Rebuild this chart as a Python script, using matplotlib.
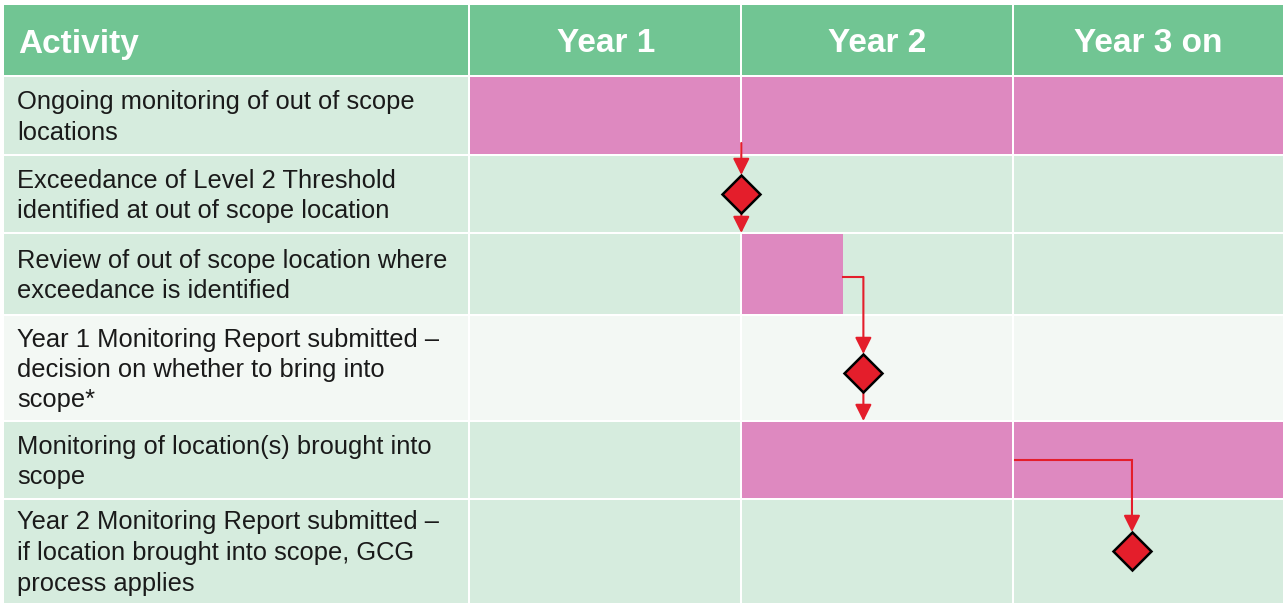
import matplotlib
matplotlib.use('Agg')
import matplotlib.pyplot as plt
from matplotlib.patches import Rectangle, FancyArrowPatch

plt.rcParams['font.family'] = ['Liberation Sans', 'DejaVu Sans']

# ---- data ----
columns = ['Year 1', 'Year 2', 'Year 3 on']
activities = [
    'Ongoing monitoring of out of scope\nlocations',
    'Exceedance of Level 2 Threshold\nidentified at out of scope location',
    'Review of out of scope location where\nexceedance is identified',
    'Year 1 Monitoring Report submitted \u2013\ndecision on whether to bring into\nscope*',
    'Monitoring of location(s) brought into\nscope',
    'Year 2 Monitoring Report submitted \u2013\nif location brought into scope, GCG\nprocess applies',
]
# bars: (row, start year, end year)
bar_rows = [0, 2, 4]
bar_start = [0.0, 1.0, 1.0]
bar_end = [3.0, 1.375, 3.0]
# milestones: (row, time)
ms_rows = [1, 3, 5]
ms_time = [1.0, 1.45, 2.44]

# ---- colours ----
header_c = '#71C593'
row_c = '#D6ECDE'
row_light = '#F3F8F4'
pink = '#DE89C0'
red = '#E41E2B'
text_c = '#1A1A1A'

# layout in pixels (y), years (x)
W, H = 1283, 603
x0, yw = 470, 271.3          # pixel of year 0, pixels per year
left_px = 4
edges = [5, 76, 155, 233, 315, 421, 499, 603]   # header + 6 rows
row_bg = [row_c, row_c, row_c, row_light, row_c, row_c]

fig = plt.figure(figsize=(W / 100, H / 100), dpi=100)
ax = fig.add_axes([0, 0, 1, 1])
ax.set_xlim(-x0 / yw, (W - x0) / yw)
ax.set_ylim(H, 0)
ax.axis('off')

xl = (left_px - x0) / yw
xr = (W - x0) / yw
gap = 2 * 0.72  # 2px white lines in points

# header
ax.add_patch(Rectangle((xl, edges[0]), xr - xl, edges[1] - edges[0], color=header_c, lw=0))
ax.text((18 - x0) / yw, (edges[0] + edges[1]) / 2 + 12, 'Activity', color='white',
        fontsize=24, fontweight='bold', va='baseline', ha='left')
for i, c in enumerate(columns):
    ax.text(i + 0.5, (edges[0] + edges[1]) / 2 + 12, c, color='white',
            fontsize=24, fontweight='bold', va='baseline', ha='center')

# row backgrounds and labels
pitch = 30.5
for r, label in enumerate(activities):
    top, bot = edges[r + 1], edges[r + 2]
    ax.add_patch(Rectangle((xl, top), xr - xl, bot - top, color=row_bg[r], lw=0))
    lines = label.split('\n')
    cy = (top + bot) / 2
    for i, line in enumerate(lines):
        yb = cy + (i - (len(lines) - 1) / 2) * pitch + 9
        ax.text((17 - x0) / yw, yb, line, color=text_c, fontsize=18.4,
                va='baseline', ha='left')

# bars
for r, s, e in zip(bar_rows, bar_start, bar_end):
    top, bot = edges[r + 1], edges[r + 2]
    ax.barh((top + bot) / 2, e - s, left=s, height=bot - top, color=pink, lw=0)

# white grid lines
for x in [(468 + 1 - x0) / yw, 1.0, 2.0]:
    ax.axvline(x, color='white', lw=gap)
for y in edges[1:-1]:
    ax.axhline(y, color='white', lw=gap)


def arrow(xa, ya, xb, yb):
    ax.add_patch(FancyArrowPatch((xa, ya), (xb, yb), arrowstyle='-|>,head_length=10,head_width=5',
                                 color=red, lw=1.5, shrinkA=0, shrinkB=0, mutation_scale=1,
                                 zorder=4))


half = 19  # diamond half-height in px
cen = [(edges[r + 1] + edges[r + 2]) / 2 for r in range(6)]

# arrow into milestone 1 from ongoing monitoring bar, then to review bar
arrow(ms_time[0], edges[2] - 12, ms_time[0], cen[1] - half)
arrow(ms_time[0], cen[1] + half, ms_time[0], edges[3])

# review bar end -> milestone 2 -> monitoring bar
ax.plot([bar_end[1], ms_time[1]], [cen[2] + 3, cen[2] + 3], color=red, lw=1.5, zorder=4)
arrow(ms_time[1], cen[2] + 3, ms_time[1], cen[3] + 5 - half)
arrow(ms_time[1], cen[3] + 5 + half, ms_time[1], edges[5])

# monitoring bar (year 3) -> milestone 3
ax.plot([2.01, ms_time[2]], [cen[4], cen[4]], color=red, lw=1.5, zorder=4)
arrow(ms_time[2], cen[4], ms_time[2], cen[5] - half)

# milestones
ms_y = [cen[1], cen[3] + 5, cen[5]]
ax.plot(ms_time, ms_y, ls='none', marker='D', ms=19.5, mfc=red, mec='black', mew=1.8, zorder=5)

fig.savefig('out.png', dpi=100)
